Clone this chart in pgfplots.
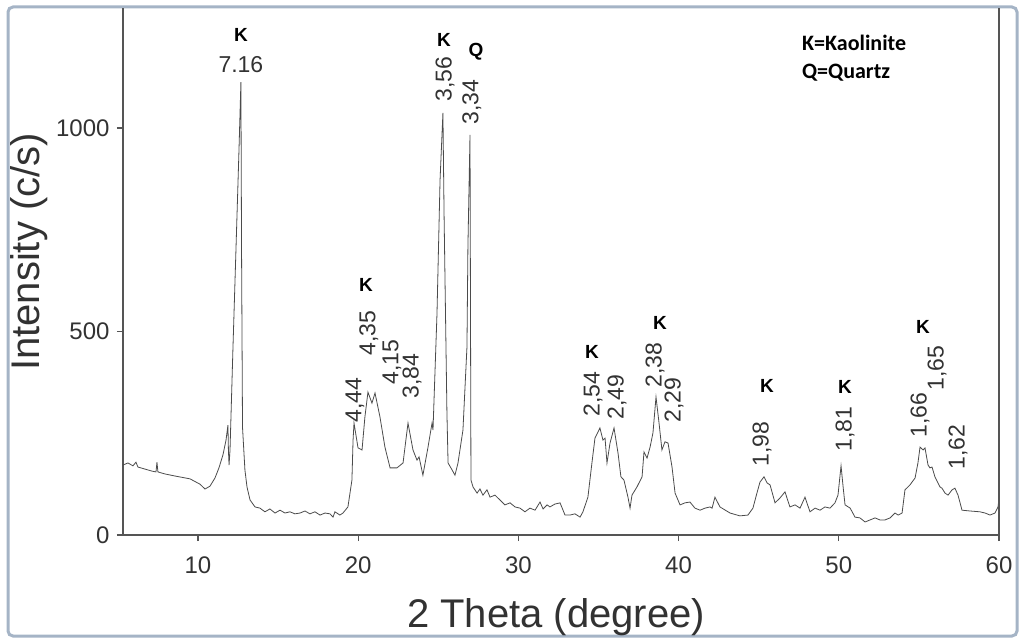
\documentclass[border=0pt]{standalone}
\usepackage{pgfplots}
\pgfplotsset{compat=1.18}
\usepackage{fontspec}
\setmainfont{Liberation Sans}
\newfontfamily\legfont{Carlito}
\definecolor{bordercol}{RGB}{165,180,198}
\definecolor{axiscol}{RGB}{85,85,85}
\definecolor{txtcol}{RGB}{50,50,50}
\definecolor{curvecol}{RGB}{75,75,75}
\tikzset{
  pk/.style={font=\fontsize{23}{26}\selectfont, text=txtcol},
  kk/.style={font=\fontsize{19}{22}\selectfont\bfseries, text=black},
  lg/.style={anchor=west, font=\legfont\fontsize{22}{24}\selectfont\bfseries, inner sep=0pt},
}
\begin{document}
\begin{tikzpicture}[x=1pt,y=1pt]
\useasboundingbox (0,0) rectangle (1021,641);
\draw[draw=bordercol, line width=3pt, rounded corners=5pt] (8,5) rectangle (1017,634);
\begin{axis}[
  at={(123pt,106pt)}, anchor=south west,
  width=876pt, height=527pt, scale only axis,
  xmin=5.32, xmax=60, ymin=0, ymax=1295,
  axis x line*=bottom, axis y line*=left,
  axis line style={axiscol, line width=1.3pt},
  xtick={10,20,30,40,50,60}, ytick={0,500,1000},
  tick align=outside, major tick length=6pt,
  tick style={axiscol, line width=1.3pt},
  ticklabel style={font=\fontsize{24}{28}\selectfont, text=txtcol},
  xticklabel style={yshift=-12pt},
  yticklabel style={xshift=-4pt},
  /pgf/number format/assume math mode=true,
  /pgf/number format/1000 sep={},
  clip=false,
]
\addplot[curvecol, line width=0.8pt] coordinates {
(5.32,172)(5.63,177)(5.94,170)(6.13,179)(6.25,167)(6.69,162)(7.13,157)(7.38,155)(7.44,179)(7.50,155)
(7.94,150)(8.56,145)(9.50,138)(10.12,125)(10.44,113)(10.75,120)(11.06,140)(11.31,165)(11.56,197)
(11.75,233)(11.87,270)(11.90,209)(11.94,172)(12.00,209)(12.18,455)(12.37,700)(12.56,946)(12.68,1113)
(12.72,700)(12.78,265)(12.93,160)(13.06,118)(13.25,86)(13.56,69)(13.87,66)(14.18,57)(14.49,64)
(14.81,54)(15.12,61)(15.43,54)(15.74,57)(16.05,52)(16.37,54)(16.68,59)(16.99,52)(17.30,57)(17.62,49)
(17.93,54)(18.24,52)(18.43,44)(18.55,57)(18.86,49)(19.05,54)(19.36,69)(19.61,135)(19.68,233)(19.74,275)
(19.99,214)(20.24,209)(20.42,290)(20.61,351)(20.86,324)(21.05,349)(21.36,290)(21.67,216)(21.99,165)
(22.42,165)(22.80,177)(23.11,275)(23.42,209)(23.67,184)(23.80,192)(24.04,147)(24.36,216)(24.61,275)
(24.67,258)(24.92,545)(25.11,872)(25.29,1037)(25.36,791)(25.54,300)(25.61,177)(25.86,160)(26.04,147)
(26.23,177)(26.54,258)(26.79,462)(26.85,708)(26.98,983)(27.04,135)(27.17,118)(27.42,103)(27.60,113)
(27.79,98)(28.04,111)(28.23,93)(28.54,98)(28.85,86)(29.16,74)(29.48,79)(29.79,69)(30.10,66)(30.41,57)
(30.72,66)(31.04,61)(31.35,81)(31.54,64)(31.79,74)(31.97,69)(32.28,76)(32.60,79)(32.91,49)(33.22,49)
(33.53,52)(33.85,44)(34.03,57)(34.34,93)(34.59,177)(34.78,238)(35.09,263)(35.28,233)(35.41,238)
(35.53,177)(35.72,226)(35.97,263)(36.22,201)(36.40,143)(36.59,135)(36.84,93)(36.97,66)(37.09,98)
(37.40,118)(37.72,143)(37.84,204)(38.03,189)(38.22,216)(38.40,251)(38.59,339)(38.78,275)(38.96,209)
(39.15,229)(39.34,226)(39.59,167)(39.78,103)(40.09,74)(40.40,79)(40.71,81)(41.02,66)(41.34,61)(41.65,66)
(41.96,69)(42.09,66)(42.27,93)(42.58,69)(43.21,54)(43.83,47)(44.33,49)(44.64,66)(44.89,103)(45.08,130)
(45.33,143)(45.52,128)(45.71,123)(46.02,79)(46.33,91)(46.64,106)(46.95,69)(47.27,74)(47.58,66)(47.89,93)
(48.20,57)(48.52,66)(48.83,61)(49.14,69)(49.45,66)(49.76,79)(49.95,98)(50.14,170)(50.27,118)(50.39,74)
(50.71,66)(51.01,44)(51.32,42)(51.64,32)(51.95,37)(52.26,42)(52.57,37)(52.88,37)(53.20,42)(53.51,54)
(53.70,49)(53.95,54)(54.13,111)(54.44,123)(54.76,140)(54.94,177)(55.07,216)(55.26,209)(55.38,214)
(55.57,172)(55.69,165)(55.82,167)(56.00,143)(56.19,128)(56.32,118)(56.44,115)(56.63,103)(56.82,98)
(57.07,111)(57.25,115)(57.44,98)(57.57,79)(57.69,61)(58.19,59)(58.81,57)(59.13,54)(59.44,49)(59.75,54)
(59.94,69)(60,91)
};
\draw[axiscol, line width=1.3pt] (rel axis cs:1,0) -- (rel axis cs:1,1);
\node[kk] at (axis cs:12.68,1229) {K};
\node[pk] at (axis cs:12.68,1155) {7.16};
\node[pk, rotate=90] at (axis cs:19.80,332) {4,44};
\node[kk] at (axis cs:20.49,614) {K};
\node[pk, rotate=90] at (axis cs:20.67,496) {4,35};
\node[pk, rotate=90] at (axis cs:22.11,425) {4,15};
\node[pk, rotate=90] at (axis cs:23.36,391) {3,84};
\node[kk] at (axis cs:25.36,1216) {K};
\node[pk, rotate=90] at (axis cs:25.42,1120) {3,56};
\node[kk] at (axis cs:27.35,1187) {Q};
\node[pk, rotate=90] at (axis cs:27.10,1064) {3,34};
\node[kk] at (axis cs:34.59,450) {K};
\node[pk, rotate=90] at (axis cs:34.66,346) {2,54};
\node[pk, rotate=90] at (axis cs:36.16,339) {2,49};
\node[kk] at (axis cs:38.84,521) {K};
\node[pk, rotate=90] at (axis cs:38.53,418) {2,38};
\node[pk, rotate=90] at (axis cs:39.71,332) {2,29};
\node[kk] at (axis cs:45.52,366) {K};
\node[pk, rotate=90] at (axis cs:45.21,224) {1,98};
\node[kk] at (axis cs:50.39,364) {K};
\node[pk, rotate=90] at (axis cs:50.39,260) {1,81};
\node[kk] at (axis cs:55.26,511) {K};
\node[pk, rotate=90] at (axis cs:56.13,410) {1,65};
\node[pk, rotate=90] at (axis cs:55.07,295) {1,66};
\node[pk, rotate=90] at (axis cs:57.44,216) {1,62};
\node[lg] at (axis cs:47.70,1209) {K=Kaolinite};
\node[lg] at (axis cs:47.70,1135) {Q=Quartz};
\end{axis}
\node[anchor=base, font=\fontsize{40}{44}\selectfont, text=txtcol] at (556,14) {2 Theta (degree)};
\node[rotate=90, anchor=base, font=\fontsize{40}{44}\selectfont, text=txtcol] at (39,389) {Intensity (c/s)};
\end{tikzpicture}
\end{document}
